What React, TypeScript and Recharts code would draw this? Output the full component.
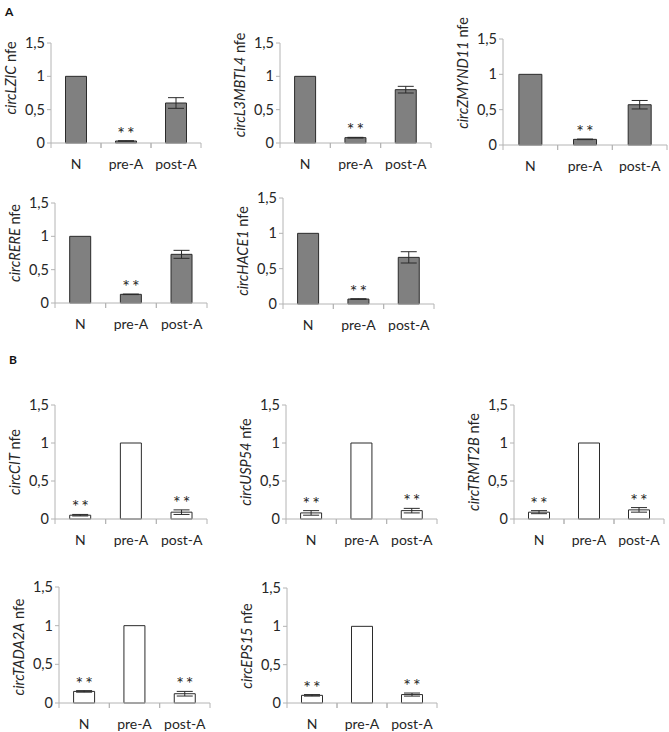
import { ComposedChart, Bar, Line, XAxis, YAxis, ErrorBar } from "recharts";

const categories = ["N", "pre-A", "post-A"];
const yTicks = [0, 0.5, 1, 1.5];

// panel A: normalised fold expression, N = 1
const lzicMean = [1, 0.03, 0.6];
const lzicErr = [0, 0.004, 0.08];
const l3mbtl4Mean = [1, 0.08, 0.8];
const l3mbtl4Err = [0, 0.005, 0.05];
const zmynd11Mean = [1, 0.08, 0.57];
const zmynd11Err = [0, 0.004, 0.06];
const rereMean = [1, 0.13, 0.73];
const rereErr = [0, 0.004, 0.06];
const hace1Mean = [1, 0.07, 0.66];
const hace1Err = [0, 0.004, 0.08];

// panel B: normalised fold expression, pre-A = 1
const citMean = [0.05, 1, 0.09];
const citErr = [0.01, 0, 0.03];
const usp54Mean = [0.08, 1, 0.11];
const usp54Err = [0.03, 0, 0.03];
const trmt2bMean = [0.09, 1, 0.12];
const trmt2bErr = [0.02, 0, 0.03];
const tada2aMean = [0.15, 1, 0.12];
const tada2aErr = [0.01, 0, 0.03];
const eps15Mean = [0.1, 1, 0.11];
const eps15Err = [0.01, 0, 0.02];

const sigA = [false, true, false];
const sigB = [true, false, true];

const FONT = "Lato, 'Open Sans', sans-serif";
const AXIS = "#b4b4b4";
const EDGE = "#2b2b2b";
const GREY = "#808080";
const INK = "#262626";

const panels = [
  { gene: "circLZIC", mean: lzicMean, err: lzicErr, sig: sigA, fill: GREY, box: [51, 201, 43, 143, 78] },
  { gene: "circL3MBTL4", mean: l3mbtl4Mean, err: l3mbtl4Err, sig: sigA, fill: GREY, box: [280, 431, 43, 143, 85] },
  { gene: "circZMYND11", mean: zmynd11Mean, err: zmynd11Err, sig: sigA, fill: GREY, box: [503, 667, 39, 145, 73] },
  { gene: "circRERE", mean: rereMean, err: rereErr, sig: sigA, fill: GREY, box: [55, 207, 203, 303, 243] },
  { gene: "circHACE1", mean: hace1Mean, err: hace1Err, sig: sigA, fill: GREY, box: [283, 434, 198, 304, 251] },
  { gene: "circCIT", mean: citMean, err: citErr, sig: sigB, fill: "#ffffff", box: [55, 207, 405, 519, 462] },
  { gene: "circUSP54", mean: usp54Mean, err: usp54Err, sig: sigB, fill: "#ffffff", box: [286, 437, 405, 519, 462] },
  { gene: "circTRMT2B", mean: trmt2bMean, err: trmt2bErr, sig: sigB, fill: "#ffffff", box: [514, 664, 405, 519, 462] },
  { gene: "circTADA2A", mean: tada2aMean, err: tada2aErr, sig: sigB, fill: "#ffffff", box: [59, 210, 587, 703, 647] },
  { gene: "circEPS15", mean: eps15Mean, err: eps15Err, sig: sigB, fill: "#ffffff", box: [287, 437, 588, 703, 646] },
];

const Y_W = 50;
const M_TOP = 40;
const M_RIGHT = 2;
const X_H = 30;

// category label in the band centre, Excel-style tick marks on the band edges
function BandTick(props: any) {
  const { x, y, payload } = props;
  const half = payload.offset || 0;
  return (
    <g>
      <line x1={x - half} x2={x - half} y1={y} y2={y + 5} stroke={AXIS} strokeWidth={1} />
      <line x1={x + half} x2={x + half} y1={y} y2={y + 5} stroke={AXIS} strokeWidth={1} />
      <text x={x} y={y + 20} textAnchor="middle" dominantBaseline="central" fontFamily={FONT} fontSize={14} fill={INK}>
        {payload.value}
      </text>
    </g>
  );
}

function Stars(props: any) {
  const { cx, cy, payload, index } = props;
  if (cy == null || payload.starY == null) return <g key={index} />;
  return (
    <text key={index} x={cx + 1} y={cy - 1} textAnchor="middle" fontFamily={FONT} fontSize={18} letterSpacing={2} fill={INK}>
      **
    </text>
  );
}

function Panel({ p }: { p: (typeof panels)[number] }) {
  const [x0, x1, yTop, yZero, labelY] = p.box;
  const left = x0 - Y_W;
  const top = yTop - M_TOP;
  const width = x1 - x0 + Y_W + M_RIGHT;
  const height = yZero - yTop + M_TOP + X_H;
  const rows = categories.map((c, i) => ({
    cat: c,
    mean: p.mean[i],
    err: p.err[i],
    starY: p.sig[i] ? p.mean[i] + p.err[i] : null,
  }));
  const yLabel = (lp: any) => {
    const vb = lp.viewBox;
    const lx = vb.x + vb.width - 41;
    const ly = labelY - top;
    return (
      <text
        x={lx}
        y={ly}
        transform={`rotate(-90 ${lx} ${ly})`}
        textAnchor="middle"
        dominantBaseline="central"
        fontFamily={FONT}
        fontSize={14.5}
        fill={INK}
      >
        <tspan fontStyle="italic">{p.gene}</tspan>
        <tspan> nfe</tspan>
      </text>
    );
  };
  return (
    <div style={{ position: "absolute", left, top, width, height }}>
      <ComposedChart
        width={width}
        height={height}
        data={rows}
        margin={{ top: M_TOP, right: M_RIGHT, bottom: 0, left: 0 }}
        barCategoryGap="29%"
      >
        <XAxis
          dataKey="cat"
          interval={0}
          tickLine={false}
          tickSize={0}
          tickMargin={0}
          axisLine={{ stroke: AXIS }}
          tick={<BandTick />}
          height={X_H}
        />
        <YAxis
          domain={[0, 1.5]}
          ticks={yTicks}
          interval={0}
          width={Y_W}
          tickSize={4}
          tickMargin={2}
          tickLine={{ stroke: AXIS }}
          axisLine={{ stroke: AXIS }}
          tick={{ fill: INK, fontSize: 14.5, fontFamily: FONT }}
          tickFormatter={(v: number) => String(v).replace(".", ",")}
          label={yLabel}
        />
        <Bar dataKey="mean" fill={p.fill} stroke={EDGE} strokeWidth={1} isAnimationActive={false}>
          <ErrorBar dataKey="err" width={8} stroke={EDGE} strokeWidth={1} direction="y" />
        </Bar>
        <Line
          dataKey="starY"
          stroke="none"
          dot={Stars}
          activeDot={false}
          legendType="none"
          isAnimationActive={false}
        />
      </ComposedChart>
    </div>
  );
}

export default function App() {
  return (
    <div style={{ position: "absolute", left: 0, top: 0, width: 669, height: 732, overflow: "hidden", background: "#fff" }}>
      <div style={{ position: "absolute", left: 5, top: 4, fontFamily: FONT, fontWeight: 700, fontSize: 12, color: "#111" }}>A</div>
      <div style={{ position: "absolute", left: 9, top: 352, fontFamily: FONT, fontWeight: 700, fontSize: 12, color: "#111" }}>B</div>
      {panels.map((p) => (
        <Panel key={p.gene} p={p} />
      ))}
    </div>
  );
}
